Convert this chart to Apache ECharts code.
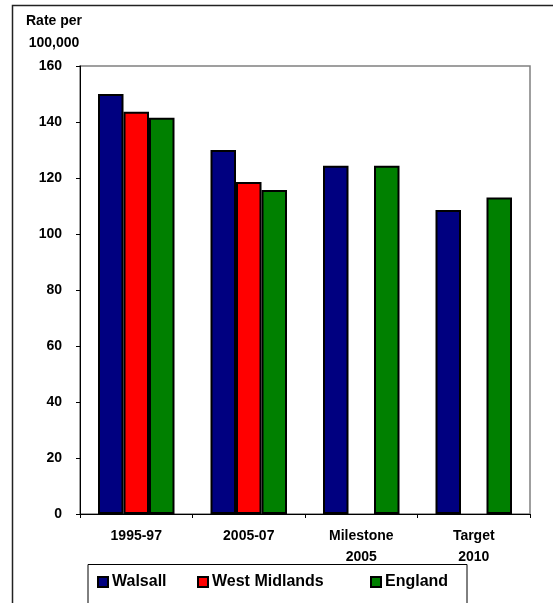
<!DOCTYPE html>
<html>
<head>
<meta charset="utf-8">
<script src="https://cdn.jsdelivr.net/npm/echarts@6/dist/echarts.min.js"></script>
<style>
html,body{margin:0;padding:0;background:#fff;}
#chart{width:553px;height:603px;}
</style>
</head>
<body>
<div id="chart"></div>
<script>
var categories = ['1995-97', '2005-07', 'Milestone\n2005', 'Target\n2010'];
var walsall = [150, 130, 124.4, 108.6];
var westMidlands = [143.7, 118.6, null, null];
var england = [141.5, 115.7, 124.4, 113.0];
var yTicks = [0, 20, 40, 60, 80, 100, 120, 140, 160];

var FONT = '"Liberation Sans", Arial, sans-serif';
var chart = echarts.init(document.getElementById('chart'), null, {renderer: 'canvas'});

function legendAt(name, left) {
  return {
    data: [name],
    left: left,
    top: 574,
    padding: 0,
    itemWidth: 10,
    itemHeight: 10,
    icon: 'rect',
    textStyle: {fontFamily: FONT, fontSize: 16, fontWeight: 'bold', color: '#000', lineHeight: 16, padding: [0, 0, 0, -1]},
    selectedMode: false
  };
}

var option = {
  animation: false,
  backgroundColor: '#fff',
  grid: {
    left: 80, top: 66, right: 23, bottom: 89,
    show: true, borderColor: '#808080', borderWidth: 1.5, backgroundColor: 'transparent'
  },
  legend: [
    legendAt('Walsall', 97),
    legendAt('West Midlands', 197),
    legendAt('England', 370)
  ],
  xAxis: {
    type: 'category',
    data: categories,
    axisLine: {show: true, lineStyle: {color: '#000', width: 1}},
    axisTick: {show: true, length: 4, lineStyle: {color: '#000'}},
    axisLabel: {
      fontFamily: FONT, fontSize: 14, fontWeight: 'bold', color: '#000',
      margin: 12, lineHeight: 21, interval: 0
    },
    splitLine: {show: false}
  },
  yAxis: {
    type: 'value',
    min: 0, max: 160, interval: 20,
    axisLine: {show: true, lineStyle: {color: '#000', width: 1}},
    axisTick: {show: true, length: 4, lineStyle: {color: '#000'}},
    axisLabel: {
      fontFamily: FONT, fontSize: 14, fontWeight: 'bold', color: '#000', margin: 18,
      formatter: function (v) { return yTicks.indexOf(v) >= 0 ? String(v) : ''; }
    },
    splitLine: {show: false}
  },
  series: [
    {
      name: 'Walsall', type: 'bar', data: walsall,
      barGap: '0%', barCategoryGap: '32%',
      itemStyle: {color: '#000080', borderColor: '#000', borderWidth: 2}
    },
    {
      name: 'West Midlands', type: 'bar', data: westMidlands,
      barGap: '0%', barCategoryGap: '32%',
      itemStyle: {color: '#FF0000', borderColor: '#000', borderWidth: 2}
    },
    {
      name: 'England', type: 'bar', data: england,
      barGap: '0%', barCategoryGap: '32%',
      itemStyle: {color: '#008000', borderColor: '#000', borderWidth: 2}
    }
  ],
  graphic: [
    {
      type: 'polyline', silent: true, z: 100,
      shape: {points: [[12.5, 700], [12.5, 5.5], [560, 5.5]]},
      style: {stroke: '#222', lineWidth: 1.5, fill: null}
    },
    {
      type: 'rect', silent: true, z: 0,
      shape: {x: 88, y: 564.5, width: 379, height: 80},
      style: {stroke: '#000', lineWidth: 1, fill: '#fff'}
    },
    {
      type: 'text', silent: true, z: 100,
      x: 54, y: 10,
      style: {
        text: 'Rate per\n100,000', textAlign: 'center', textVerticalAlign: 'top',
        font: 'bold 14px ' + FONT, lineHeight: 22, fill: '#000'
      }
    }
  ]
};
chart.setOption(option);
</script>
</body>
</html>
